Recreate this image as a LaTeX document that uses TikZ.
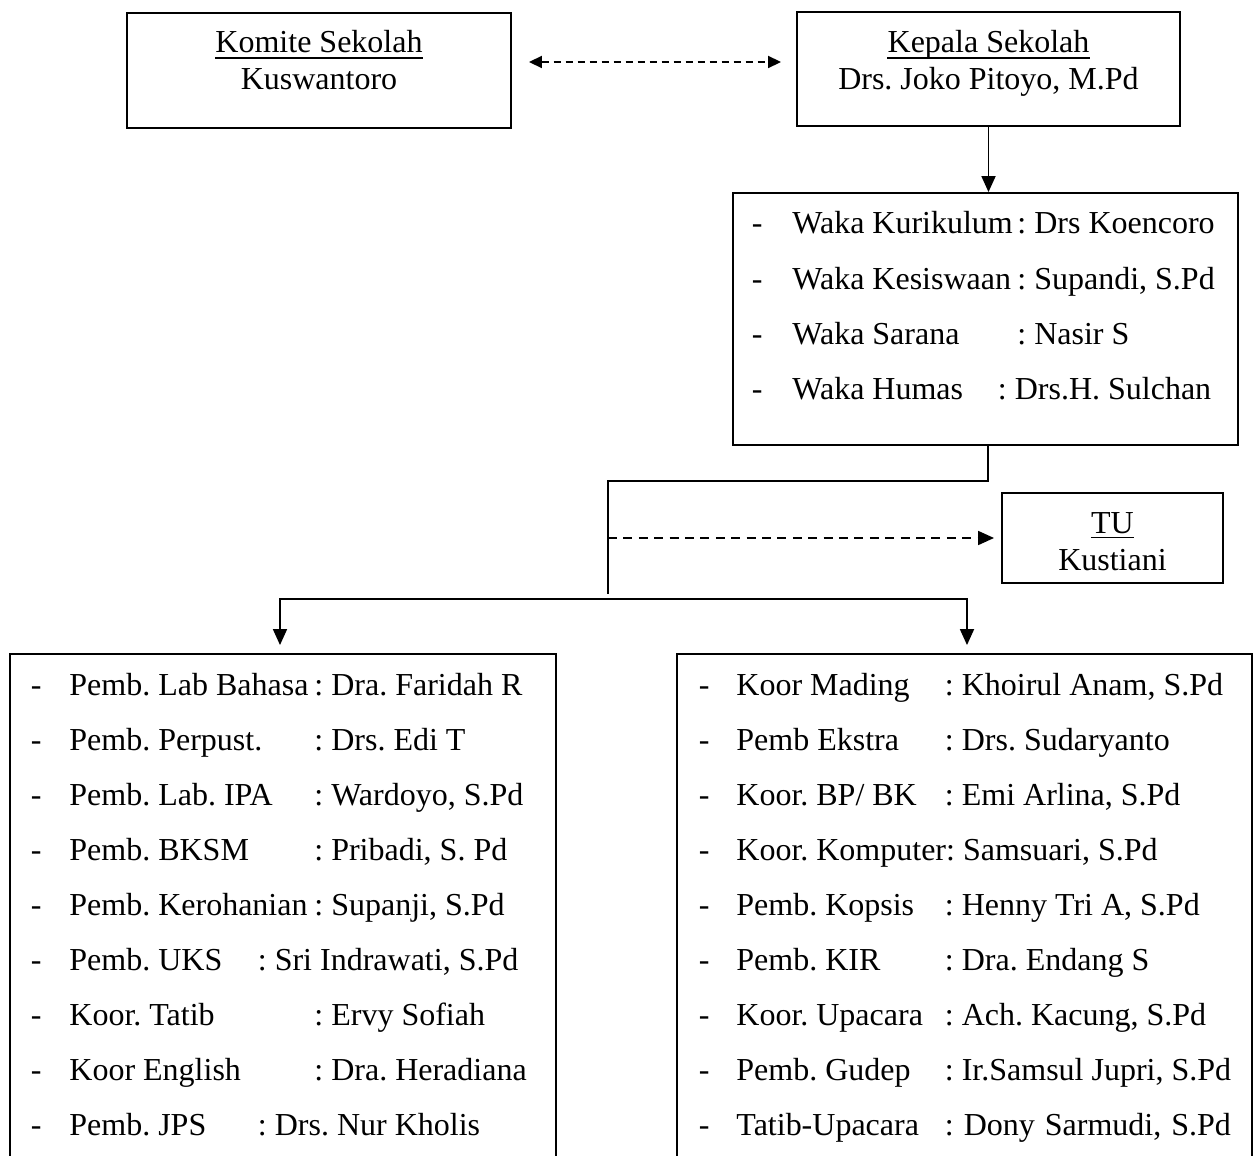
\documentclass[tikz,border=0pt]{standalone}
\usepackage{fontspec}
\setmainfont{Liberation Serif}
\usetikzlibrary{arrows.meta,calc}
\newcommand\fs{\fontsize{16pt}{19pt}\selectfont\frenchspacing}
% name, baseline y, dash x, label x, label, colon x, value
\newcommand\orgrow[7]{%
  \node[txt] (#1d) at (#3,#2) {-};
  \node[txt] (#1l) at (#4,#2) {#5};
  \node[txt] (#1v) at (#6,#2) {: #7};
}
\begin{document}
\begin{tikzpicture}[x=0.5pt,y=-0.5pt,
  box/.style={draw, line width=0.95pt, inner sep=0pt},
  txt/.style={inner sep=0pt, anchor=base west, font=\fs},
  ctxt/.style={inner sep=0pt, anchor=base, font=\fs},
  uline/.style={line width=0.8pt},
  conn/.style={line width=0.9pt, line cap=rect},
  arr/.style={line width=0.9pt, -{Triangle[length=8pt,width=7pt]}},
  dasharr/.style={line width=0.9pt, dash pattern=on 4.5pt off 3.2pt, -{Triangle[length=8pt,width=7pt]}},
  dbl/.style={line width=0.9pt, dash pattern=on 3.5pt off 2.5pt, {Triangle[length=6.5pt,width=6pt]}-{Triangle[length=6.5pt,width=6pt]}}
]
\useasboundingbox (0,0) rectangle (1254,1156);
\clip (0,0) rectangle (1254,1156);

% boxes
\node[box, minimum width=192pt, minimum height=57.5pt] (komite) at (319,70.5) {};
\node[box, minimum width=191.5pt, minimum height=57pt] (kepala) at (988.5,69) {};
\node[box, minimum width=252.5pt, minimum height=126pt] (waka) at (985.5,319) {};
\node[box, minimum width=110.5pt, minimum height=45pt] (tu) at (1112.5,538) {};
\node[box, minimum width=273pt, minimum height=270pt] (lbox) at (283,924) {};
\node[box, minimum width=287.5pt, minimum height=270pt] (rbox) at (964.5,924) {};

% top texts
\node[ctxt] (komiteT) at (319,53) {Komite Sekolah};
\node[ctxt] (komiteN) at (319,90) {Kuswantoro};
\draw[uline] ([yshift=-2.5pt]komiteT.base west) -- ([yshift=-2.5pt]komiteT.base east);
\node[ctxt] (kepalaT) at (988.5,53) {Kepala Sekolah};
\node[ctxt] (kepalaN) at (988.5,90) {Drs. Joko Pitoyo, M.Pd};
\draw[uline] ([yshift=-2.5pt]kepalaT.base west) -- ([yshift=-2.5pt]kepalaT.base east);
\node[ctxt] (tuT) at (1112.5,533) {TU};
\node[ctxt] (tuN) at (1112.5,570) {Kustiani};
\draw[uline] ([yshift=-2.2pt]tuT.base west) -- ([yshift=-2.2pt]tuT.base east);

% waka rows
\orgrow{wa}{234}{751.5}{792}{Waka Kurikulum}{1017}{Drs Koencoro}
\orgrow{wb}{289}{751.5}{792}{Waka Kesiswaan}{1017}{Supandi, S.Pd}
\orgrow{wc}{344}{751.5}{792}{Waka Sarana}{1017}{Nasir S}
\orgrow{wd}{399}{751.5}{792}{Waka Humas}{997.5}{Drs.H. Sulchan}

% left rows
\orgrow{la}{695}{30.5}{69}{Pemb. Lab Bahasa}{314}{Dra. Faridah R}
\orgrow{lb}{750}{30.5}{69}{Pemb. Perpust.}{314}{Drs. Edi T}
\orgrow{lc}{805}{30.5}{69}{Pemb. Lab. IPA}{314}{Wardoyo, S.Pd}
\orgrow{ld}{860}{30.5}{69}{Pemb. BKSM}{314}{Pribadi, S. Pd}
\orgrow{le}{915}{30.5}{69}{Pemb. Kerohanian}{314}{Supanji, S.Pd}
\orgrow{lf}{970}{30.5}{69}{Pemb. UKS}{257.5}{Sri Indrawati, S.Pd}
\orgrow{lg}{1025}{30.5}{69}{Koor. Tatib}{314}{Ervy Sofiah}
\orgrow{lh}{1080}{30.5}{69}{Koor English}{314}{Dra. Heradiana}
\orgrow{li}{1135}{30.5}{69}{Pemb. JPS}{257.5}{Drs. Nur Kholis}

% right rows
\orgrow{ra}{695}{698.5}{736}{Koor Mading}{944.5}{Khoirul Anam, S.Pd}
\orgrow{rb}{750}{698.5}{736}{Pemb Ekstra}{944.5}{Drs. Sudaryanto}
\orgrow{rc}{805}{698.5}{736}{Koor. BP/ BK}{944.5}{Emi Arlina, S.Pd}
\node[txt] (rdd) at (698.5,860) {-};
\node[txt] (rdl) at (736,860) {Koor. Komputer: Samsuari, S.Pd};
\orgrow{re}{915}{698.5}{736}{Pemb. Kopsis}{944.5}{Henny Tri A, S.Pd}
\orgrow{rf}{970}{698.5}{736}{Pemb. KIR}{944.5}{Dra. Endang S}
\orgrow{rg}{1025}{698.5}{736}{Koor. Upacara}{944.5}{Ach. Kacung, S.Pd}
\orgrow{rh}{1080}{698.5}{736}{Pemb. Gudep}{944.5}{Ir.Samsul Jupri, S.Pd}
\orgrow{ri}{1135}{698.5}{736}{Tatib-Upacara}{944.5}{\hspace{1pt}Dony \hspace{1pt}Sarmudi, \hspace{1pt}S.Pd}

% connectors
\draw[dbl] ($(komite.east)+(17,-8.5)$) -- ($(kepala.west)+(-15,-7)$);
\draw[arr] (kepala.south) -- (kepala.south |- waka.north);
\coordinate (j1) at (988,481);
\coordinate (j2) at (608,481);
\coordinate (j3) at (608,593);
\draw[conn] (waka.south -| j1) -- (j1) -- (j2) -- (j3);
\draw[dasharr] (j2 |- tu.west) -- ($(tu.west)+(-7,0)$);
\coordinate (bl) at (280,599);
\coordinate (br) at (967,599);
\draw[conn] (bl) -- (br);
\draw[arr] (bl) -- ($(bl |- lbox.north)+(0,-8)$);
\draw[arr] (br) -- ($(br |- rbox.north)+(0,-8)$);
\end{tikzpicture}
\end{document}
